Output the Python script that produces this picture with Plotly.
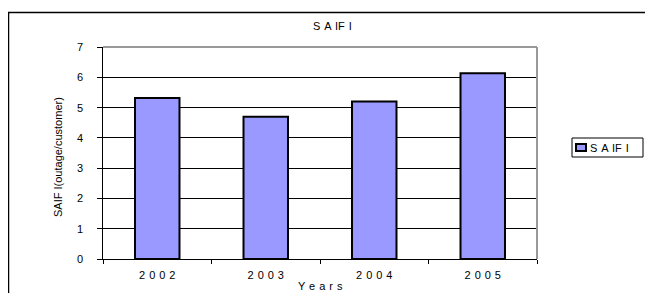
import plotly.graph_objects as go

years = ["2002", "2003", "2004", "2005"]
saifi = [5.32, 4.70, 5.20, 6.13]
series_name = "S A IF I"
y_ticks = [0, 1, 2, 3, 4, 5, 6, 7]

OFF = 8  # page body margin
W, H = 653 - OFF, 293 - OFF
L, R, T, B = 103 - OFF, 537 - OFF, 47 - OFF, 259 - OFF
pw, ph = R - L, B - T

def px(x):
    return (x - OFF - L) / pw

def py(y):
    return (B - (y - OFF)) / ph

def wide(s):
    return s.replace(" ", " \u200a")

font = "Liberation Sans, Arial, sans-serif"
sp = " \u200a"

fig = go.Figure()
fig.add_trace(go.Bar(
    x=years, y=saifi, name=series_name,
    marker=dict(color="#9999FF", line=dict(color="black", width=2)),
    width=0.41, showlegend=False,
))

annotations = [
    dict(text=wide("S A IF I"), xref="paper", yref="paper", x=px(332), y=py(26),
         xanchor="center", yanchor="middle", showarrow=False, font=dict(size=11)),
    dict(text=wide("Y e a r s"), xref="paper", yref="paper", x=px(320), y=py(286),
         xanchor="center", yanchor="middle", showarrow=False, font=dict(size=11)),
    dict(text="SAIF I(outage/customer)", xref="paper", yref="paper",
         x=px(58), y=py(157), textangle=-90,
         xanchor="center", yanchor="middle", showarrow=False, font=dict(size=11)),
    dict(text=wide(series_name), xref="paper", yref="paper", x=px(588), y=py(147.5),
         xanchor="left", yanchor="middle", showarrow=False, font=dict(size=11)),
]
# y tick labels placed at their data values
for v in y_ticks:
    annotations.append(dict(text=str(v), xref="paper", yref="y", x=px(84), y=v,
                            xanchor="right", yanchor="middle", showarrow=False,
                            borderpad=0, font=dict(size=11)))

fig.update_layout(
    width=W, height=H,
    margin=dict(l=L, r=W - R, t=T, b=H - B, pad=0),
    paper_bgcolor="white", plot_bgcolor="white",
    font=dict(family=font, size=11, color="black"),
    showlegend=False,
    xaxis=dict(
        type="category", tickson="boundaries", ticks="outside", ticklen=4,
        tickcolor="black", showline=True, linecolor="black", linewidth=1,
        tickvals=years, ticktext=[sp.join(y) for y in years],
        showgrid=False, tickfont=dict(size=11), automargin=False,
        ticklabelstandoff=6,
        range=[-0.5, 3.5],
    ),
    yaxis=dict(
        range=[0, 7], tickvals=y_ticks, showticklabels=False,
        ticks="outside", ticklen=5,
        tickcolor="black", showline=True, linecolor="black", linewidth=1,
        showgrid=True, gridcolor="black", gridwidth=1, zeroline=False,
        automargin=False,
    ),
    annotations=annotations,
    shapes=[
        # outer chart frame
        dict(type="rect", xref="paper", yref="paper",
             x0=px(8.5), x1=px(700), y0=py(320), y1=py(12.5),
             line=dict(color="black", width=1.5), layer="below"),
        # top and right plot border (gray)
        dict(type="line", xref="paper", yref="paper", x0=0, x1=1, y0=1, y1=1,
             line=dict(color="#999999", width=2)),
        dict(type="line", xref="paper", yref="paper", x0=1, x1=1, y0=0, y1=1,
             line=dict(color="#999999", width=2)),
        # legend box
        dict(type="rect", xref="paper", yref="paper",
             x0=px(572), x1=px(643), y0=py(157), y1=py(138),
             line=dict(color="black", width=1), fillcolor="white"),
        # legend swatch
        dict(type="rect", xref="paper", yref="paper",
             x0=px(576), x1=px(586), y0=py(151), y1=py(144),
             line=dict(color="black", width=2), fillcolor="#9999FF"),
    ],
)

fig.write_html("out.html")
